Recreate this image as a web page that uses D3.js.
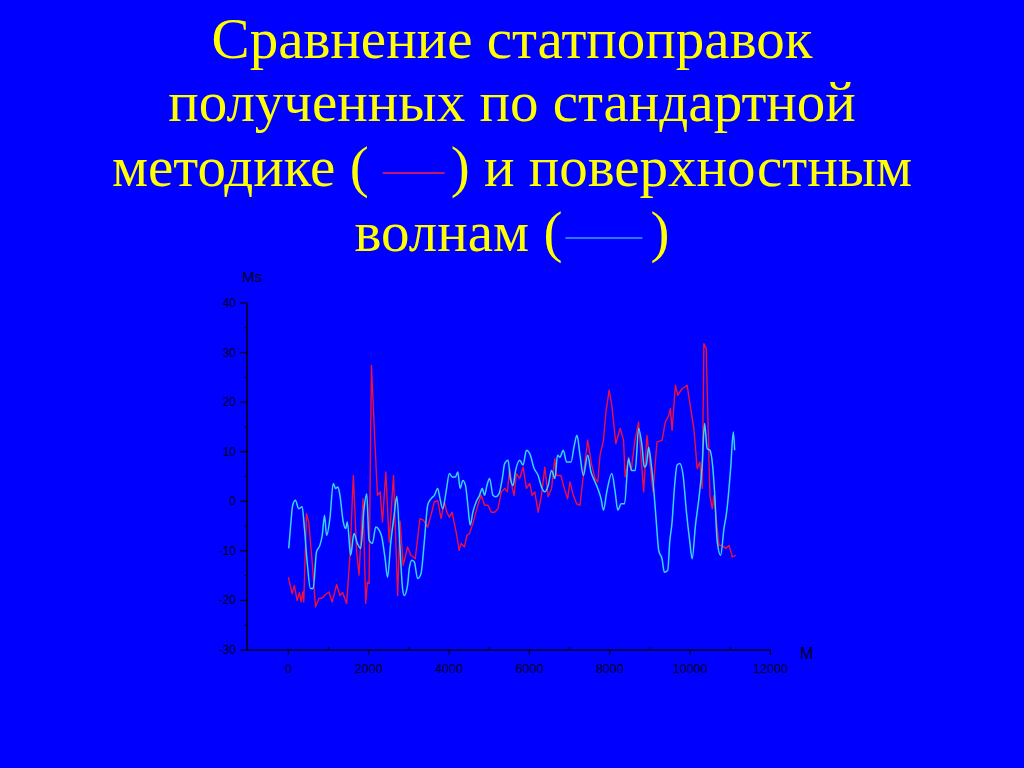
<!DOCTYPE html>
<html>
<head>
<meta charset="utf-8">
<script src="https://cdn.jsdelivr.net/npm/d3@7"></script>
<style>
html,body{margin:0;padding:0;background:#0000ff;}
svg{display:block;}
</style>
</head>
<body>
<svg id="chart" width="1024" height="768"></svg>
<script>
// ---- Data ----
const titleLines = ["Сравнение статпоправок", "полученных по стандартной", "методике (", ") и поверхностным", "волнам (", ")"];
const xTicks = [0, 2000, 4000, 6000, 8000, 10000, 12000];
const yTicks = [-30, -20, -10, 0, 10, 20, 30, 40];
const xLabel = "M";
const yLabel = "Ms";

// standard method (red)
const redX = [0,92,150,217,275,317,358,383,450,508,592,675,758,842,925,1008,1092,1200,1283,1350,1450,1533,1617,1700,1758,1858,1925,1967,2008,2067,2150,2217,2283,2342,2425,2508,2617,2720,2780,2858,2967,3050,3158,3275,3358,3467,3550,3633,3717,3800,3883,3942,4008,4075,4133,4192,4250,4300,4383,4442,4508,4592,4658,4742,4800,4883,4967,5050,5133,5217,5300,5383,5450,5508,5575,5617,5675,5758,5842,5925,6008,6067,6133,6217,6300,6383,6467,6550,6633,6675,6783,6867,6950,7008,7092,7175,7258,7342,7450,7550,7633,7700,7758,7842,7900,7983,8050,8150,8258,8342,8383,8467,8533,8620,8717,8842,8925,9075,9175,9300,9383,9467,9508,9550,9633,9692,9800,9925,10008,10092,10175,10242,10300,10342,10400,10442,10492,10550,10592,10658,10717,10800,10883,10967,11050,11133];
const redY = [-15.3,-18.6,-17,-20,-18.4,-20.3,-18.3,-20.3,-2.5,-4.2,-12.2,-21.3,-19.6,-19.5,-18.8,-18.3,-20.3,-16.8,-19,-18.4,-20.6,-10.9,5.2,-10.2,-14.9,0.5,-20.6,-16.3,-16.6,27.4,12.6,1.2,1.9,-4.2,5.9,-8.2,5.2,-19,-4,-12.9,-9.2,-10.9,-11.6,-3.5,-3.8,-5.2,-2.8,-0.1,0.1,-3.5,-0.1,-2.2,-3.2,-2.2,-4.5,-6.9,-9.9,-8.5,-9.2,-6.9,-6.5,-4.5,-2.5,-0.1,1.2,-0.8,-0.8,-2.2,-2.2,-1.5,1.9,2.6,1.9,6.6,2.6,1.2,5.6,4.6,6.9,2.6,3.6,1.2,1.9,-2.2,1.2,6.9,0.9,2.6,8.6,5.2,5.2,2.6,0.5,3.9,1.2,-0.5,-0.8,5.2,12.3,7.3,4.6,3.9,9.3,12.3,17.7,22.4,19.4,11.6,14.7,12.3,4.9,8.9,6.2,12,16.0,1.9,13.3,1.9,12.0,12.3,16.0,17.3,18.7,14.3,23.4,21.4,22.7,23.4,19.0,14.7,6.6,7.9,2.6,31.8,30.8,16.7,1.2,-1.5,1.2,-4.2,-8.9,-8.9,-9.5,-8.9,-11.2,-10.9];

// surface waves (cyan)
const blueX = [8,50,108,175,258,342,400,467,550,617,700,783,842,900,950,1033,1117,1175,1233,1283,1367,1425,1467,1550,1633,1717,1800,1883,1950,2008,2092,2175,2258,2325,2408,2467,2550,2633,2700,2775,2842,2883,2967,3008,3075,3133,3217,3300,3383,3467,3550,3633,3717,3758,3842,3925,4008,4075,4158,4217,4275,4342,4408,4467,4525,4592,4675,4758,4825,4883,4942,5008,5092,5158,5242,5325,5383,5467,5525,5592,5650,5758,5842,5925,6008,6117,6217,6300,6383,6467,6550,6633,6700,6758,6842,6925,7033,7117,7183,7258,7342,7450,7533,7617,7700,7783,7842,7925,8050,8133,8200,8283,8367,8467,8500,8550,8633,8717,8800,8858,8908,8967,9025,9092,9158,9217,9300,9358,9442,9492,9550,9608,9675,9742,9825,9908,9992,10050,10133,10217,10300,10358,10425,10492,10558,10608,10675,10758,10842,10908,11008,11075,11108];
const blueY = [-9.5,-5.5,-0.8,0.2,-1.5,-1.1,-5.5,-12.2,-17.6,-17.6,-10.2,-8.9,-6.9,-2.8,-6.9,-3.5,3.6,2.6,2.9,1.2,-4.2,-5.5,-4.2,-10.9,-6.5,-8.5,-9.5,-1.5,1.5,-7.9,-8.5,-5.2,-5.8,-7.2,-11.6,-15.3,-8.2,-2.8,1.0,-8.9,-17.6,-19,-16.9,-13.6,-11.9,-12.2,-15.6,-14.6,-8.2,-0.8,0.5,1.2,2.6,1.2,-1.5,1.9,5.6,4.9,4.9,5.9,2.6,4.2,3.2,-0.8,-4.8,-2.2,-0.1,1.2,2.6,1.2,3.2,4.6,1.2,0.9,1.5,4.6,7.6,8.3,4.6,3.2,6.0,8.3,7.3,10.3,9.6,6.6,5.2,2.9,1.9,3.2,6.2,4.6,9.3,8.9,10.3,7.9,7.9,11.3,13.3,9.3,5.2,9.3,5.9,4.2,2.6,0.5,-1.8,1.9,5.6,1.9,-1.8,-0.5,-0.5,8.6,7.5,6.2,6.2,14.7,11.3,6.9,7.3,10.9,7.9,2.6,-4.2,-9.9,-11.6,-14.3,-13.9,-8.2,-4.2,2.6,7.3,7.6,5.2,-2.2,-8.2,-11.6,-4.8,0.5,7.3,15.7,10.6,10.3,7.3,1.9,-8.2,-10.9,-5.5,-2.2,6.6,14.0,10.3];

// ---- Drawing ----
const svg = d3.select("#chart");
svg.append("rect").attr("width",1024).attr("height",768).attr("fill","#0000ff");

const YELLOW = "#ffff00";
const RED = "#ee1040";
const CYAN = "#38d4ff";
const AXIS = "#000018";

// Title
const tfont = "'Liberation Serif','Times New Roman',serif";
const tsize = 57;
function titleText(y){
  return svg.append("text").attr("x",512).attr("y",y)
    .attr("text-anchor","middle").attr("fill",YELLOW)
    .attr("font-family",tfont).attr("font-size",tsize);
}
titleText(58).text(titleLines[0]);
titleText(121).text(titleLines[1]);
const gap3 = 82, gap4 = 88;
const t3 = titleText(186);
t3.append("tspan").text(titleLines[2]);
t3.append("tspan").attr("dx",gap3).text(titleLines[3]);
const t4 = titleText(251);
t4.append("tspan").text(titleLines[4]);
t4.append("tspan").attr("dx",gap4).text(titleLines[5]);

function legendLine(t, idx, color, y, a, b){
  const n = t.node();
  const e = n.getEndPositionOfChar(idx).x;
  svg.append("line").attr("x1",e+a).attr("x2",e+b)
    .attr("y1",y).attr("y2",y).attr("stroke",color).attr("stroke-width",1.5);
}
legendLine(t3, titleLines[2].length-1, "#ff2040", 173, 14, 76);
legendLine(t4, titleLines[4].length-1, "#3aa0ff", 238, 3, 80);

// Scales
const x = d3.scaleLinear().domain([-1030, 12000]).range([247, 770.5]);
const y = d3.scaleLinear().domain([-30, 40]).range([650, 303]);

const afont = "'Liberation Sans',Arial,sans-serif";

// X axis
const gx = svg.append("g").attr("transform","translate(0,650)");
gx.append("line").attr("x1",x(-1030)).attr("x2",x(12000)).attr("stroke",AXIS).attr("stroke-width",1.6);
const xMinor = d3.range(1000, 12000, 2000);
gx.selectAll(".xmin").data(xMinor).enter().append("line")
  .attr("x1",d=>x(d)).attr("x2",d=>x(d)).attr("y1",-3).attr("y2",0)
  .attr("stroke",AXIS).attr("stroke-width",1);
gx.selectAll(".xmaj").data(xTicks).enter().append("line")
  .attr("x1",d=>x(d)).attr("x2",d=>x(d)).attr("y1",0).attr("y2",5)
  .attr("stroke",AXIS).attr("stroke-width",1.2);
gx.selectAll(".xlab").data(xTicks).enter().append("text")
  .attr("x",d=>x(d)).attr("y",23).attr("text-anchor","middle")
  .attr("font-family",afont).attr("font-size",12.5).attr("fill",AXIS)
  .text(d=>d);
svg.append("text").attr("x",800).attr("y",659).attr("font-family",afont)
  .attr("font-size",16).attr("fill",AXIS).text(xLabel);

// Y axis
const gy = svg.append("g").attr("transform","translate(247,0)");
gy.append("line").attr("y1",y(40)).attr("y2",y(-30)).attr("stroke",AXIS).attr("stroke-width",1.6);
const yMinor = d3.range(-25, 40, 10);
gy.selectAll(".ymin").data(yMinor).enter().append("line")
  .attr("y1",d=>y(d)).attr("y2",d=>y(d)).attr("x1",-3).attr("x2",0)
  .attr("stroke",AXIS).attr("stroke-width",1);
gy.selectAll(".ymaj").data(yTicks).enter().append("line")
  .attr("y1",d=>y(d)).attr("y2",d=>y(d)).attr("x1",-7).attr("x2",0)
  .attr("stroke",AXIS).attr("stroke-width",1.2);
gy.selectAll(".ylab").data(yTicks).enter().append("text")
  .attr("x",-11).attr("y",d=>y(d)+4).attr("text-anchor","end")
  .attr("font-family",afont).attr("font-size",12).attr("fill",AXIS)
  .text(d=>d);
svg.append("text").attr("x",242).attr("y",282).attr("font-family",afont)
  .attr("font-size",15).attr("fill",AXIS).text(yLabel);

// Lines
const redData = redX.map((v,i)=>[v, redY[i]]);
const blueData = blueX.map((v,i)=>[v, blueY[i]]);
const lineLin = d3.line().x(d=>x(d[0])).y(d=>y(d[1]));
const lineSmooth = d3.line().x(d=>x(d[0])).y(d=>y(d[1])).curve(d3.curveMonotoneX);

svg.append("path").datum(redData).attr("d",lineLin)
  .attr("fill","none").attr("stroke",RED).attr("stroke-width",1.4).attr("stroke-linejoin","round");
svg.append("path").datum(blueData).attr("d",lineSmooth)
  .attr("fill","none").attr("stroke",CYAN).attr("stroke-width",1.5).attr("stroke-linejoin","round");
</script>
</body>
</html>
